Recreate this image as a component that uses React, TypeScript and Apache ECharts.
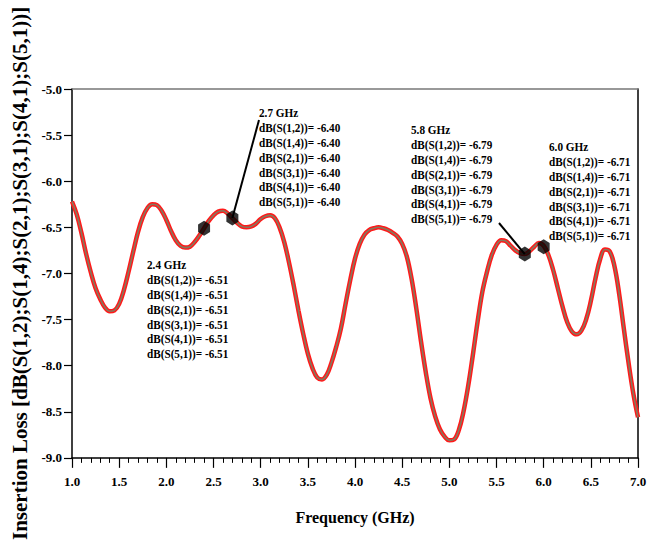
import React, { useEffect, useRef } from "react";
import * as echarts from "echarts";

const freqs = [
  1.0, 1.05, 1.1, 1.15, 1.2, 1.25, 1.3, 1.35, 1.4, 1.45, 1.5, 1.55, 1.6, 1.65, 1.7, 1.75, 1.8, 1.85, 1.9, 1.95,
  2.0, 2.05, 2.1, 2.15, 2.2, 2.25, 2.3, 2.35, 2.4, 2.45, 2.5, 2.55, 2.6, 2.65, 2.7, 2.75, 2.8, 2.85, 2.9, 2.95,
  3.0, 3.05, 3.1, 3.15, 3.2, 3.25, 3.3, 3.35, 3.4, 3.45, 3.5, 3.55, 3.6, 3.65, 3.7, 3.75, 3.8, 3.85, 3.9, 3.95,
  4.0, 4.05, 4.1, 4.15, 4.2, 4.25, 4.3, 4.35, 4.4, 4.45, 4.5, 4.55, 4.6, 4.65, 4.7, 4.75, 4.8, 4.85, 4.9, 4.95,
  5.0, 5.05, 5.1, 5.15, 5.2, 5.25, 5.3, 5.35, 5.4, 5.45, 5.5, 5.55, 5.6, 5.65, 5.7, 5.75, 5.8, 5.85, 5.9, 5.95,
  6.0, 6.05, 6.1, 6.15, 6.2, 6.25, 6.3, 6.35, 6.4, 6.45, 6.5, 6.55, 6.6, 6.65, 6.7, 6.75, 6.8, 6.85, 6.9, 6.95,
  7.0,
];

const insertionLoss = [
  -6.22, -6.36, -6.56, -6.79, -6.99, -7.16, -7.28, -7.37, -7.41, -7.4, -7.33, -7.18, -6.98, -6.76, -6.55, -6.39, -6.29, -6.25, -6.26, -6.32,
  -6.42, -6.54, -6.64, -6.7, -6.72, -6.71, -6.66, -6.59, -6.51, -6.43, -6.37, -6.33, -6.32, -6.35, -6.4, -6.45, -6.49, -6.5, -6.49, -6.46,
  -6.41, -6.38, -6.37, -6.4, -6.5, -6.66, -6.88, -7.13, -7.4, -7.65, -7.87, -8.03, -8.13, -8.15, -8.1, -7.97, -7.8, -7.6, -7.33, -7.07,
  -6.84, -6.68, -6.58, -6.53, -6.51, -6.5, -6.51, -6.53, -6.56, -6.6, -6.68, -6.82, -7.06, -7.38, -7.74, -8.07, -8.35, -8.55, -8.69, -8.77,
  -8.81, -8.8, -8.7, -8.5, -8.22, -7.88, -7.52, -7.2, -6.98, -6.8, -6.69, -6.64, -6.65, -6.7, -6.75, -6.78, -6.79, -6.76, -6.71, -6.67,
  -6.7, -6.8, -6.96, -7.16, -7.36, -7.53, -7.63, -7.66, -7.62, -7.5, -7.3, -7.05, -6.84, -6.74, -6.76, -6.92, -7.22, -7.6, -7.97, -8.3,
  -8.56,
];

const markerFreqs = [2.4, 2.7, 5.8, 6.0];
const markerValues = [-6.51, -6.4, -6.79, -6.71];
const traceNames = ["dB(S(1,2))", "dB(S(1,4))", "dB(S(2,1))", "dB(S(3,1))", "dB(S(4,1))", "dB(S(5,1))"];

const xTicks = ["1.0", "1.5", "2.0", "2.5", "3.0", "3.5", "4.0", "4.5", "5.0", "5.5", "6.0", "6.5", "7.0"];

const FONT = '"Liberation Serif", "Times New Roman", serif';

// annotation block anchors (left x, title y) in pixels, per marker
const blockPos = [
  [147, 265],
  [259, 113],
  [411, 130],
  [549, 147],
];
// leader line text ends (for markers 2.7 and 5.8)
const leaders: Record<number, [number, number]> = { 1: [259, 120], 2: [499, 223] };

export default function App() {
  const ref = useRef<HTMLDivElement>(null);
  useEffect(() => {
    if (!ref.current) return;
    const chart = echarts.init(ref.current, null, { renderer: "svg" });
    const data = freqs.map((f, i) => [f, insertionLoss[i]]);
    chart.setOption({
      animation: false,
      backgroundColor: "#ffffff",
      grid: { left: 72, right: 21, top: 89, bottom: 84 },
      xAxis: [
        {
          type: "value",
          min: 1,
          max: 7,
          interval: 0.5,
          position: "bottom",
          name: "Frequency (GHz)",
          nameLocation: "middle",
          nameGap: 52,
          nameTextStyle: { fontFamily: FONT, fontWeight: "bold", fontSize: 16, color: "#000" },
          axisLine: { show: true, onZero: false, lineStyle: { color: "#000", width: 1.5 } },
          axisTick: { show: true, length: 10, lineStyle: { color: "#000", width: 1.2 } },
          minorTick: { show: true, splitNumber: 5, length: 5, lineStyle: { color: "#000", width: 1 } },
          axisLabel: {
            fontFamily: FONT,
            fontWeight: "bold",
            fontSize: 13,
            color: "#000",
            margin: 17,
            formatter: (v: number) => xTicks[Math.round((v - 1) / 0.5)] ?? v.toFixed(1),
          },
          splitLine: { show: false },
        },
        {
          type: "value",
          min: 1,
          max: 7,
          position: "top",
          axisLine: { show: true, onZero: false, lineStyle: { color: "#777", width: 1.5 } },
          axisTick: { show: false },
          axisLabel: { show: false },
          splitLine: { show: false },
        },
      ],
      yAxis: [
        {
          type: "value",
          min: -9,
          max: -5,
          interval: 0.5,
          name: "Insertion Loss [dB(S(1,2);S(1,4);S(2,1);S(3,1);S(4,1);S(5,1))]",
          nameLocation: "middle",
          nameGap: 40,
          nameTextStyle: { fontFamily: FONT, fontWeight: "bold", fontSize: 21, color: "#000" },
          axisLine: { show: true, onZero: false, lineStyle: { color: "#000", width: 1.5 } },
          axisTick: { show: true, length: 8, lineStyle: { color: "#000", width: 1.2 } },
          axisLabel: {
            fontFamily: FONT,
            fontWeight: "bold",
            fontSize: 13,
            color: "#000",
            margin: 10,
            formatter: (v: number) => v.toFixed(1),
          },
          splitLine: { show: false },
        },
        {
          type: "value",
          min: -9,
          max: -5,
          position: "right",
          axisLine: { show: true, onZero: false, lineStyle: { color: "#000", width: 1.5 } },
          axisTick: { show: false },
          axisLabel: { show: false },
          splitLine: { show: false },
        },
      ],
      series: [
        {
          type: "line",
          data,
          smooth: 0.4,
          showSymbol: false,
          lineStyle: { color: "#ff1a1a", width: 4.5 },
          z: 2,
        },
        {
          type: "line",
          data,
          smooth: 0.4,
          showSymbol: false,
          lineStyle: { color: "#86785e", width: 1.6 },
          z: 3,
        },
        {
          type: "scatter",
          data: markerFreqs.map((f, i) => [f, markerValues[i]]),
          symbol: "path://M0,-1 L0.866,-0.5 L0.866,0.5 L0,1 L-0.866,0.5 L-0.866,-0.5 Z",
          symbolSize: [12, 15],
          itemStyle: { color: "#000" },
          z: 5,
        },
      ],
    });

    const graphics: any[] = [];
    markerFreqs.forEach((f, i) => {
      const [bx, by] = blockPos[i];
      const lines = [`${f.toFixed(1)} GHz`, ...traceNames.map((n) => `${n}= ${markerValues[i].toFixed(2)}`)];
      lines.forEach((t, j) => {
        graphics.push({
          type: "text",
          x: bx,
          y: by + j * 14.8,
          scaleX: 0.83,
          style: {
            text: t,
            fill: "#000",
            font: `bold 13.5px ${FONT}`,
            textVerticalAlign: "middle",
            verticalAlign: "middle",
          },
          z: 10,
        });
      });
      if (leaders[i]) {
        const p = chart.convertToPixel({ xAxisIndex: 0, yAxisIndex: 0 }, [f, markerValues[i]]) as number[];
        graphics.push({
          type: "line",
          shape: { x1: leaders[i][0], y1: leaders[i][1], x2: p[0], y2: p[1] },
          style: { stroke: "#000", lineWidth: 2 },
          z: 4,
        });
      }
    });
    chart.setOption({ graphic: graphics });

    return () => chart.dispose();
  }, []);
  return <div ref={ref} style={{ width: 659, height: 543, position: "absolute", left: 0, top: 0 }} />;
}
